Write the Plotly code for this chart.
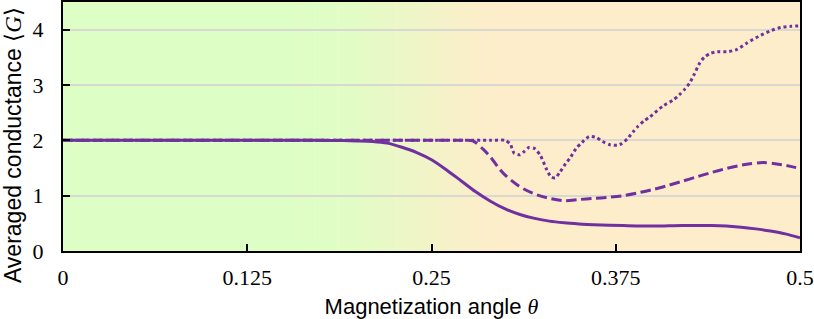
import plotly.graph_objects as go

# ---- data ----
theta_solid = [0.0, 0.05, 0.10, 0.15, 0.17, 0.19, 0.20, 0.21, 0.22, 0.23, 0.24, 0.25, 0.26, 0.27,
               0.28, 0.29, 0.30, 0.31, 0.32, 0.33, 0.34, 0.35, 0.36, 0.38, 0.40, 0.42,
               0.44, 0.46, 0.47, 0.48, 0.49, 0.50]
G_solid = [2.0, 2.0, 2.0, 2.0, 2.0, 1.995, 1.99, 1.98, 1.95, 1.875, 1.78, 1.65, 1.47, 1.27,
           1.07, 0.90, 0.76, 0.66, 0.59, 0.54, 0.51, 0.49, 0.475, 0.46, 0.45, 0.46,
           0.46, 0.43, 0.40, 0.36, 0.31, 0.24]

theta_dash = [0.0, 0.10, 0.20, 0.27, 0.278, 0.285, 0.29, 0.295, 0.30, 0.31, 0.32, 0.33,
              0.34, 0.35, 0.36, 0.37, 0.38, 0.39, 0.40, 0.41, 0.42, 0.43, 0.44, 0.45,
              0.46, 0.47, 0.475, 0.48, 0.49, 0.50]
G_dash = [2.0, 2.0, 2.0, 2.0, 1.99, 1.84, 1.70, 1.52, 1.37, 1.16, 1.03, 0.95,
          0.91, 0.93, 0.95, 0.97, 1.00, 1.05, 1.11, 1.18, 1.26, 1.34, 1.42, 1.49,
          1.55, 1.59, 1.60, 1.59, 1.55, 1.49]

theta_dot = [0.0, 0.10, 0.20, 0.29, 0.300, 0.3035, 0.306, 0.310, 0.313, 0.316, 0.320,
             0.324, 0.328, 0.331, 0.334, 0.337, 0.341, 0.344, 0.348, 0.352, 0.357,
             0.362, 0.366, 0.371, 0.376, 0.379, 0.383, 0.387, 0.390, 0.394, 0.398,
             0.407, 0.414, 0.418, 0.422, 0.425, 0.428, 0.432, 0.435, 0.439, 0.444,
             0.451, 0.457, 0.464, 0.472, 0.480, 0.487, 0.494, 0.500]
G_dot = [2.0, 2.0, 2.0, 2.0, 2.0, 1.93, 1.77, 1.74, 1.80, 1.87, 1.85,
         1.72, 1.48, 1.34, 1.32, 1.42, 1.58, 1.68, 1.85, 1.96, 2.07,
         2.05, 1.98, 1.92, 1.91, 1.94, 2.03, 2.16, 2.25, 2.35, 2.42,
         2.62, 2.73, 2.82, 2.93, 3.03, 3.18, 3.40, 3.50, 3.57, 3.60,
         3.60, 3.64, 3.76, 3.88, 3.98, 4.04, 4.06, 4.07]

x_ticks = [0, 0.125, 0.25, 0.375, 0.5]
x_ticklabels = ["0", "0.125", "0.25", "0.375", "0.5"]
y_ticks = [0, 1, 2, 3, 4]
y_ticklabels = ["0", "1", "2", "3", "4"]

# ---- style ----
PURPLE = "#7030a0"
GREEN = (221, 255, 197)
ORANGE = (254, 237, 202)
GRAD_START, GRAD_END = 0.16, 0.31
N_STRIPS = 60

fig = go.Figure()

fig.add_trace(go.Scatter(x=theta_solid, y=G_solid, mode="lines",
                         line=dict(color=PURPLE, width=3, shape="spline", smoothing=0.8),
                         showlegend=False))
fig.add_trace(go.Scatter(x=theta_dash, y=G_dash, mode="lines",
                         line=dict(color=PURPLE, width=3, dash="10px,5px", shape="spline", smoothing=0.8),
                         showlegend=False))
fig.add_trace(go.Scatter(x=theta_dot, y=G_dot, mode="lines",
                         line=dict(color=PURPLE, width=3, dash="3px,3px", shape="spline", smoothing=0.6),
                         showlegend=False))

# background gradient (green -> orange)
shapes = []
shapes.append(dict(type="rect", xref="x", yref="paper", x0=0, x1=GRAD_START, y0=0, y1=1,
                   fillcolor="rgb(%d,%d,%d)" % GREEN, line_width=0, layer="below"))
shapes.append(dict(type="rect", xref="x", yref="paper", x0=GRAD_END, x1=0.5, y0=0, y1=1,
                   fillcolor="rgb(%d,%d,%d)" % ORANGE, line_width=0, layer="below"))
step = (GRAD_END - GRAD_START) / N_STRIPS
for i in range(N_STRIPS):
    t = (i + 0.5) / N_STRIPS
    s = t * t * (3 - 2 * t)
    c = tuple(round(GREEN[k] + (ORANGE[k] - GREEN[k]) * s) for k in range(3))
    x0 = GRAD_START + i * step
    shapes.append(dict(type="rect", xref="x", yref="paper", x0=x0, x1=x0 + step * 1.05,
                       y0=0, y1=1, fillcolor="rgb(%d,%d,%d)" % c, line_width=0, layer="below"))

fig.update_layout(
    width=814, height=319,
    margin=dict(l=63, r=14, t=2, b=68, autoexpand=False),
    paper_bgcolor="white",
    plot_bgcolor="rgb(%d,%d,%d)" % ORANGE,
    shapes=shapes,
    font=dict(family="Liberation Serif", size=22, color="black"),
    annotations=[dict(
        text="Averaged conductance <span style='font-family:Liberation Serif'>⟨<i>G</i>⟩</span>",
        textangle=-90, xref="paper", yref="paper", x=-0.068, y=0.425,
        xanchor="center", yanchor="middle", showarrow=False,
        font=dict(family="Liberation Sans", size=23, color="black"))],
)

fig.update_xaxes(
    range=[0, 0.5], tickvals=x_ticks, ticktext=x_ticklabels,
    ticks="inside", ticklen=7, tickwidth=1.5, tickcolor="black",
    showline=True, linecolor="black", linewidth=2, mirror=True,
    showgrid=False, zeroline=False, ticklabelstandoff=6,
    title=dict(text="Magnetization angle <span style='font-family:Liberation Serif'><i>θ</i></span>",
               font=dict(family="Liberation Sans", size=22), standoff=9),
)
fig.update_yaxes(
    range=[0, 4.5], tickvals=y_ticks, ticktext=y_ticklabels,
    ticks="inside", ticklen=7, tickwidth=1.5, tickcolor="black",
    showline=True, linecolor="black", linewidth=2, mirror=True,
    showgrid=True, gridcolor="#d9d9d4", gridwidth=2, zeroline=False,
    ticklabelstandoff=13,
)

fig.write_html("out.html", config={"displayModeBar": False},
               post_script="document.body.style.margin='0px';")
